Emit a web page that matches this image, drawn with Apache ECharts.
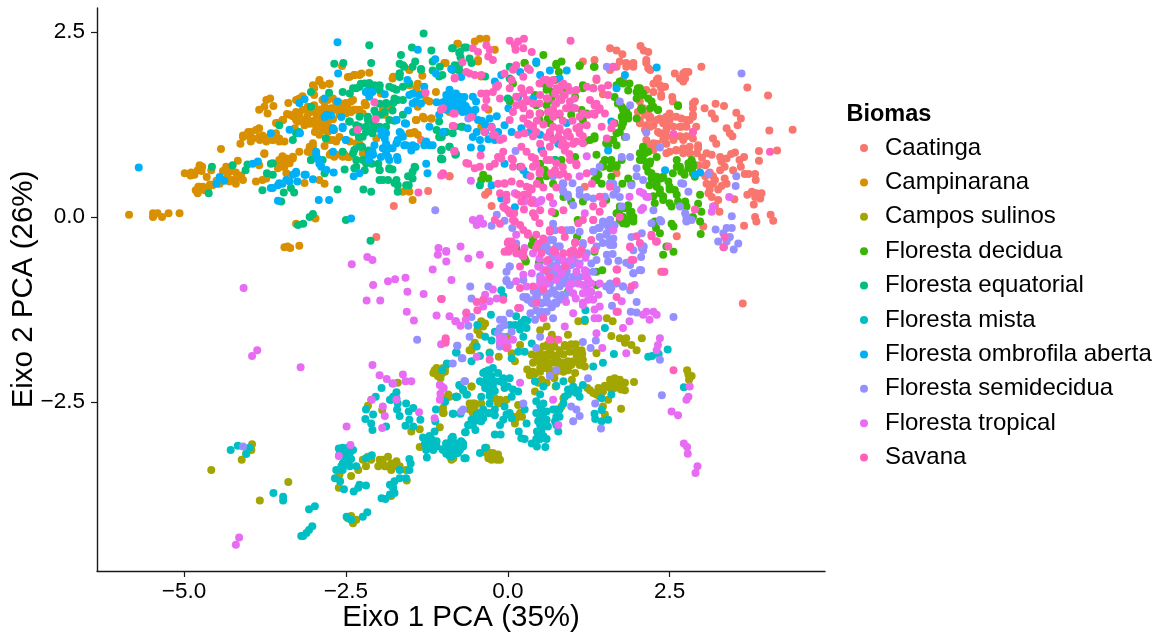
<!DOCTYPE html>
<html><head><meta charset="utf-8">
<style>html,body{margin:0;padding:0;background:#fff}#c{width:1168px;height:632px}</style>
<script src="https://cdn.jsdelivr.net/npm/echarts@6/dist/echarts.min.js"></script>
</head><body><div id="c"></div>
<script>
const seriesNames=["Caatinga","Campinarana","Campos sulinos","Floresta decidua","Floresta equatorial","Floresta mista","Floresta ombrofila aberta","Floresta semidecidua","Floresta tropical","Savana"];
const seriesColors=["#F8766D","#D89000","#A3A500","#39B600","#00BF7D","#00BFC4","#00B0F6","#9590FF","#E76BF3","#FF62BC"];
const xTicks=[-5,-2.5,0,2.5];
const yTicks=[-2.5,0,2.5];
const tickText={"-5":"−5.0","-2.5":"−2.5","0":"0.0","2.5":"2.5"};

const caatinga=[[1.58,2.28],[1.68,2.25],[1.77,2.2],[2.05,2.31],[2.1,2.25],[2.17,2.23],[2.14,2.12],[2.17,2.01],[1.83,2.08],[1.94,2.03],[1.68,2.03],[2.58,1.94],[2.74,1.96],[2.79,1.96],[2.74,1.87],[2.71,1.83],[2.99,2.03],[2.32,1.87],[2.25,1.8],[2.35,1.78],[2.43,1.76],[2.25,1.69],[2.37,1.65],[2.54,1.62],[3.7,1.75],[4.02,1.64],[3.21,1.53],[3.34,1.5],[3.04,1.47],[2.89,1.56],[2.86,1.47],[2.86,1.38],[3.15,1.4],[3.2,1.33],[3.53,1.41],[3.6,1.33],[3.55,1.24],[3.38,1.2],[3.43,1.13],[3.47,1.09],[4.04,1.17],[4.4,1.18],[2.04,1.56],[2.09,1.47],[2.01,1.42],[2.17,1.38],[2.19,1.33],[2.04,1.31],[2.35,1.33],[2.5,1.4],[2.5,1.31],[2.45,1.24],[2.56,1.22],[2.68,1.33],[2.81,1.31],[2.68,1.22],[2.86,1.15],[2.76,1.09],[2.66,1.09],[2.56,1.04],[2.45,1.09],[2.35,1.13],[2.25,1.24],[2.14,1.24],[2.45,.99],[2.3,.99],[2.19,.97],[2.5,.88],[2.6,.9],[2.71,.93],[2.81,.95],[2.94,.97],[2.92,.86],[3.17,1.06],[3.22,.99],[3.07,.86],[3.15,.84],[3.28,.81],[3.3,.75],[3.38,.79],[3.51,.87],[3.58,.77],[3.65,.81],[3.48,.63],[3.88,.89],[3.88,.76],[4.16,.9],[3.66,.58],[3.82,.58],[3.83,.5],[3.07,.72],[3.28,.63],[3.17,.55],[3.38,.45],[3.07,.45],[3.17,.45],[3.25,.37],[3.12,.37],[3.15,.27],[3.25,.23],[3.27,.07],[3.5,.24],[3.77,.34],[3.84,.32],[3.92,.32],[3.82,.27],[3.8,.17],[4.06,.03],[3.82,0],[3.84,-.06],[4.1,-.05],[3.65,-.12],[3.02,-.13],[2.61,-.26],[1.47,1.66],[1.37,1.85],[1.34,2.12],[1.16,2.1],[2.12,1.18],[1.68,.59],[1.19,.41],[-.3,.34],[-.35,.3],[-.25,.15],[-.9,.55],[3.63,-1.17],[2.37,-.74],[-1.76,.15],[-2.03,-.27],[-1.23,.35],[-.9,.55],[-1.34,1.04],
[1.78,1.85],[1.83,2.03],[1.73,2.1],[1.94,2.08],[2.14,2.08],[2.2,1.985],[2.3,1.85],[2.37,1.74],[2.37,1.625],[2.14,1.715],[2.55,1.56],[2.3,1.31],[2.45,1.355],[2.6,1.355],[2.76,1.31],[2.86,1.355],[2.4,1.265],[2.66,1.22],[2.76,1.22],[2.91,1.22],[2.32,1.15],[2.45,1.175],[2.55,1.085],[2.71,1.04],[2.86,1.06],[2.4,1.04],[2.25,.995],[2.14,1.04],[2.2,1.22],[2.04,1.265],[2.12,1.38],[2.2,1.355],[2.6,.905],[2.81,.86],[2.94,.93],[2.45,.86],[2.25,.905],[2.71,.86],[1.58,1.985],[2.86,1.535],[2.71,1.94],[2.66,1.87],[3,.8],[3.05,.7],[3.12,.6],[3.2,.5],[3.3,.42],[3.05,.55],[3.1,.32],[3.2,.15],[3.35,.52],[2.95,.7],[3.35,.68],[3.45,.85],[3.6,.68],[3.72,.58],[3.7,.3],[3.9,.25]];

const campinarana=[[-5.85,.03],[-5.48,.05],[-5.48,0],[-5.41,.05],[-5.34,0],[-5.24,.05],[-5.07,.05],[-3.22,-.39],[-3.45,-.41],[-3.36,-.42],[-3.4,-.4],[-3.27,-.09],[-2.97,-.02],[-4.99,.59],[-4.89,.6],[-4.84,.57],[-4.76,.7],[-4.72,.68],[-4.79,.63],[-4.58,.63],[-4.82,.36],[-4.79,.32],[-4.71,.41],[-4.63,.39],[-4.76,.41],[-4.56,.43],[-4.45,.45],[-4.35,.68],[-4.65,.54],[-4.33,.54],[-4.25,.5],[-4.17,.54],[-4.09,.5],[-4.2,.45],[-4.17,.76],[-4.3,.61],[-4.43,.92],[-4.13,.99],[-4.09,1.08],[-3.97,1.15],[-3.84,1.2],[-4.02,1.1],[-3.94,1.06],[-3.84,1.08],[-3.73,1.02],[-3.63,1.04],[-3.53,1.02],[-3.97,1.02],[-3.79,1.1],[-3.68,1.08],[-3.58,1.13],[-3.84,1.45],[-3.76,1.49],[-3.71,1.4],[-3.73,1.58],[-3.67,1.6],[-3.62,1.5],[-3.39,1.54],[-3.27,1.58],[-3.17,1.63],[-3.22,1.6],[-3.58,1.27],[-3.48,1.31],[-3.41,1.39],[-3.32,1.36],[-3.22,1.4],[-3.12,1.45],[-3.01,1.47],[-3.27,1.31],[-3.17,1.31],[-3.06,1.26],[-2.96,1.22],[-2.86,1.17],[-2.76,1.22],[-2.86,1.31],[-2.76,1.45],[-2.65,1.54],[-2.57,1.47],[-2.5,1.49],[-2.39,1.58],[-2.86,1.58],[-3.01,1.78],[-2.91,1.85],[-2.86,1.78],[-2.76,1.8],[-2.99,1.65],[-2.47,1.89],[-2.37,1.92],[-2.26,1.94],[-2.14,1.95],[-2.56,2.04],[-3.53,.77],[-3.48,.82],[-3.4,.75],[-3.32,.79],[-3.45,.68],[-3.55,.66],[-3.76,.85],[-3.22,.88],[-3.01,.95],[-3.06,.88],[-2.83,.96],[-2.75,.84],[-2.65,.84],[-2.52,.84],[-2.45,.81],[-2.7,1.04],[-2.29,.99],[-2.24,.86],[-3.89,.48],[-3.79,.5],[-3.73,.52],[-3.84,.7],[-3.14,.46],[-2.91,.5],[-2.83,.45],[-3.42,.59],[-2.34,1.45],[-2.24,1.4],[-2.19,1.51],[-1.96,1.67],[-1.84,1.48],[-2.03,1.06],[-1.78,1.87],[-1.52,1.99],[-1.32,1.91],[-1.39,1.8],[-1.52,1.78],[-1.42,1.67],[-1.39,1.49],[-1.26,1.58],[-1.21,1.56],[-1.11,1.69],[-1.18,1.33],[-1.29,1.33],[-1.42,1.31],[-1.49,1.13],[-1.39,1.11],[-1.62,.34],[-1.52,.34],[-1.47,.23],[-.98,2.08],[-.78,2.34],[-.51,2.37],[-.43,2.41],[-.33,2.41],[-.2,2.26],[-.77,2.34],[-.46,2.1],[-.46,2.12],[-.96,2.08],[-.41,1.9],[-.3,1.45],[-.9,1.42],[-.41,1.22],
[-2.86,1.58],[-2.78,1.58],[-2.7,1.6],[-2.6,1.54],[-2.5,1.54],[-2.42,1.56],[-2.83,1.49],[-2.73,1.47],[-2.65,1.45],[-2.55,1.45],[-2.47,1.47],[-2.91,1.45],[-2.99,1.51],[-3.09,1.49],[-3.17,1.45],[-3.27,1.42],[-3.37,1.38],[-3.47,1.31],[-3.55,1.27],[-3.04,1.42],[-2.91,1.36],[-2.83,1.33],[-2.93,1.26],[-2.86,1.22],[-2.98,1.15],[-2.91,1.11],[-2.78,1.15],[-2.68,1.175],[-2.6,1.08],[-2.75,1.04],[-2.65,1.02],[-2.44,1.02],[-2.34,.995],[-2.29,.97],[-3.06,.95],[-3.01,.995],[-3.09,.88],[-3.01,.86],[-2.73,.86],[-2.68,.815],[-2.55,.815],[-2.47,.81],[-3.5,.77],[-3.42,.79],[-3.55,.7],[-3.47,.68],[-3.37,.725],[-3.32,.815],[-3.76,.86],[-4.09,1.1],[-3.94,1.06],[-3.83,1.04],[-3.73,1.06],[-3.63,1.04],[-3.53,1.06],[-3.45,1.02],[-3.89,1.175],[-4.01,1.15],[-3.29,1.2],[-3.24,1.29],[-3.14,1.24],[-2.37,1.45],[-2.29,1.45],[-2.21,1.54],[-1.93,1.45],[-1.9,1.38],[-2.21,.86],[-1.41,1.31],[-1.31,1.355],[-1.18,1.33],[-1.52,1.13],[-1.44,1.15],[-2.29,1.92],[-2.37,1.92],[-2.44,1.895],[-1.52,1.985],[-1.77,1.895],[-1.41,1.74],[-1.31,1.67],[-2.91,1.83],[-2.99,1.74],[-2.75,1.8],[-4.75,.37],[-4.68,.36],[-4.78,.41],[-4.6,.44],[-4.5,.49],[-4.4,.5],[-4.3,.48],[-4.12,.56],[-4.2,.6],[-4.27,.66],[-4.9,.56],[-4.73,.62],[-4.4,.62],[-2.95,1.38],[-2.8,1.28],[-2.7,1.32],[-2.6,1.38],[-2.5,1.4],[-2.42,1.42],[-3.1,1.35],[-3,1.3],[-2.88,1.42]];

const camposSulinos=[[-4.58,-3.42],[-3.39,-3.58],[-3.83,-3.83],[-3.95,-3.07],[-3.96,-3.15],[-4.11,-3.28],[-4.04,-3.2],[-2.42,-4.04],[-2.34,-4.09],[-2.39,-4.14],[-2.47,-4.07],[-2.6,-3.48],[-2.61,-3.66],[-2.42,-3.5],[-2.31,-3.42],[-2.19,-3.37],[-2.24,-3.28],[-2.11,-3.28],[-2.16,-3.24],[-2,-3.37],[-1.93,-3.28],[-1.85,-3.24],[-1.88,-3.37],[-1.72,-3.3],[-1.67,-3.37],[-1.8,-3.42],[-1.57,-3.42],[-1.56,-3.56],[-1.8,-3.77],[-1.77,-3.66],[-2.16,-2.55],[-2.11,-2.47],[-1.94,-2.61],[-1.7,-2.24],[-1.49,-2.9],[-1.36,-2.87],[-1.36,-3.11],[-1.05,-2.84],[-1.13,-2.11],[-1.05,-2.09],[-.97,-2.04],[-1.04,-2.18],[-1.13,-2.07],[-.92,-2.4],[-.8,-2.43],[-.69,-2.34],[-1,-2.65],[-.59,-1.8],[-.56,-2.29],[-.59,-2.52],[-.87,-3.24],[-.41,-1.44],[-.35,-1.44],[-.47,-1.53],[-.51,-1.7],[-.56,-1.8],[-.28,-1.83],[-.14,-1.89],[.11,-1.95],[.06,-1.84],[0,-1.62],[.19,-1.73],[.37,-1.86],[.5,-1.53],[.6,-1.48],[.68,-1.59],[.75,-1.66],[.93,-1.59],[.88,-1.73],[1.09,-1.41],[1.19,-1.41],[1.53,-1.37],[1.62,-1.41],[1.6,-1.61],[1.73,-1.64],[1.81,-1.7],[1.91,-1.73],[2.07,-1.64],[1.99,-1.8],[1.83,-1.64],[.5,-1.84],[.65,-1.8],[.6,-1.93],[.75,-1.88],[.86,-1.86],[.96,-1.82],[1.06,-1.86],[1.14,-1.8],[1.16,-1.93],[1.19,-2.02],[1.01,-1.95],[.86,-1.97],[.7,-1.97],[.52,-1.97],[.39,-1.97],[.3,-2.06],[.34,-2.14],[.5,-2.09],[.65,-2.13],[.75,-2.09],[.93,-2.07],[1.04,-2.11],[.99,-2.2],[.47,-2.24],[.42,-2.36],[.6,-2.24],[.74,-2.29],[1.37,-1.84],[1.23,-2.31],[1.32,-2.38],[1.42,-2.43],[1.4,-2.31],[1.58,-2.2],[1.65,-2.18],[1.68,-2.27],[1.81,-2.24],[1.95,-2.23],[1.81,-2.34],[1.55,-2.47],[1.65,-2.31],[1.75,-2.59],[1.47,-2.56],[1.5,-2.67],[2.77,-2.07],[2.84,-2.15],[2.8,-2.2],[2.79,-2.13],[-1,-2.04],[-.97,-2.09],[-.51,-2.52],[-.51,-2.56],[-.56,-2.29],[-.9,-2.43],[-.8,-2.43],[-1,-2.58],[-.99,-2.65],[-.2,-2.45],[-.12,-2.49],[-.02,-2.47],[.13,-2.72],[.19,-2.65],[.11,-2.79],[.22,-2.7],[.16,-2.54],[-.54,-2.65],[-.41,-2.52],[-.33,-3.12],[-.28,-3.19],[-.2,-3.26],[-.15,-3.21],[-.28,-3.26],[-.84,-3.26],[.86,-2.45],[.83,-2.56],
[.6,-1.86],[.68,-1.86],[.78,-1.95],[.93,-1.95],[1.09,-1.93],[1.06,-1.8],[1.11,-2],[.5,-2.04],[.57,-2.04],[.39,-2.09],[.65,-2.07],[.86,-2.09],[.44,-1.88],[.52,-1.88],[.7,-1.88],[.52,-2.2],[1.6,-2.27],[1.73,-2.2],[1.76,-2.29],[1.27,-2.34],[1.37,-2.4],[1.47,-2.36],[1.58,-2.31],[-.54,-2.52],[-.46,-2.65],[-.59,-2.6],[.11,-2.7],[-.33,-3.19],[-.23,-3.19],[-.3,-3.26],[-.25,-3.28],[-.12,-3.28],[-.17,-3.28],[-.87,-3.28],[-.12,-2.47],[-.15,-2.52],[-.95,-2.45],[-.41,-1.41],[-.38,-1.48],[-.43,-1.59],[-.54,-1.75],[-1.98,-3.28],[-1.9,-3.37],[-1.8,-3.33],[-1.72,-3.37],[-1.15,-2.11],[-1.08,-2.15],[-1.1,-2.04],[-1.03,-2.13],[.55,-1.75],[.62,-1.72],[.72,-1.75],[.8,-1.8],[.9,-1.75],[.98,-1.72],[1.05,-1.72],[.45,-1.95],[.55,-2],[.62,-2],[.8,-2.02],[.88,-2],[.98,-2],[1.1,-1.98],[1.15,-1.85],[.72,-2.18],[.42,-2.12],[1.68,-2.2],[1.75,-2.33],[1.5,-2.28]];

const florestaDecidua=[[.55,2.19],[.26,2.08],[.75,2.07],[.83,2.1],[1.11,2.04],[1.33,2.03],[.79,1.96],[2.04,1.74],[1.99,1.69],[2.09,1.65],[2.17,1.6],[2.25,1.49],[2.32,1.45],[2.63,1.5],[1.99,1.33],[2.07,1.45],[1.76,1.49],[1.83,1.45],[1.86,1.38],[1.78,1.31],[1.76,1.22],[1.68,1.13],[1.63,1.04],[1.55,.97],[1.68,.97],[1.81,1.08],[1.73,1.83],[1.65,1.62],[1.86,1.71],[1.68,1.78],[.73,1.85],[.6,1.72],[.7,1.65],[.86,1.69],[.44,1.51],[.5,1.4],[.62,1.33],[.8,1.38],[.98,1.38],[1.16,1.31],[.42,1.65],[1.04,1.62],[1.34,1.09],[1.19,1.02],[1.37,.84],[1.04,.81],[.73,.77],[1.16,1.74],[.03,1.58],[.65,1.11],[2.09,.93],[2.04,.86],[2.17,.88],[2.09,.77],[2.19,.72],[2.3,.81],[2.17,.61],[2.22,.52],[2.3,.45],[2.37,.52],[2.48,.48],[2.5,.37],[2.35,.37],[2.25,.28],[2.4,.28],[2.53,.14],[2.61,.3],[2.61,.68],[2.68,.61],[2.79,.66],[2.86,.72],[2.61,.77],[2.86,.59],[2.74,.21],[2.97,.3],[2.94,.18],[2.99,.07],[2.86,0],[2.97,-.06],[2.76,.14],[2.98,-.23],[2.84,.77],[2.27,-.06],[2.53,-.09],[2.35,-.22],[2.56,-.13],[2.29,-.15],[1.37,.5],[1.45,.45],[1.47,.72],[1.58,.66],[1.68,.7],[1.76,.77],[1.37,.59],[1.86,.52],[1.77,.45],[1.91,.45],[1.73,.14],[1.83,.12],[1.91,.07],[1.7,.05],[1.78,0],[1.89,-.04],[1.83,-.09],[1.94,0],[1.73,-.04],[1.86,.16],[.5,.72],[.6,.55],[.7,.45],[.5,.45],[.86,.27],[.98,.21],[1.16,.21],[1.52,.23],[.73,.05],[1.08,-.04],[1.07,-.27],[-.38,.57],[-.41,.5],[-.3,.52],[.39,-.3],[.26,-.56],[.13,-.45],[1.34,-.47],[2.45,-.4],[2.4,-.51],[2.56,-.47],[.28,-.6],[.48,-.62],[1.37,-.74],[1.46,-.72],[1.37,-.92],[.93,-1.01],[.13,-.42],[.37,-.38],
[1.7,1.535],[1.78,1.445],[1.83,1.4],[1.76,1.355],[1.86,1.33],[1.78,1.265],[1.73,1.15],[1.65,1.265],[1.6,1.04],[1.52,.995],[1.5,.77],[1.6,.725],[1.68,.68],[1.47,.68],[1.34,.5],[1.4,.57],[2.09,.95],[2.12,.86],[2.04,.77],[2.2,.75],[2.14,.68],[2.22,.59],[2.3,.545],[2.4,.545],[2.55,.59],[2.66,.68],[2.79,.725],[2.86,.68],[2.73,.57],[2.89,.545],[2.01,1.74],[2.09,1.67],[2.22,1.56],[2.32,1.445],[2.63,1.51],[1.88,1.805],[1.78,1.805],[1.99,1.6],[2.2,1.47],[2.06,1.47],[.62,1.74],[.7,1.69],[.55,1.805],[.6,1.51],[.67,1.58],[.49,1.31],[.65,1.265],[1.16,1.78],[1.32,1.74],[1.22,1.4],[1.14,1.445],[1.34,1.06],[1.27,1.04],[.26,2.08],[.75,2.05],[1.11,2.05],[1.34,2.03],[.03,1.56],[.08,1.805],[.65,1.83],[.57,.635],[.49,.5],[.83,.77],[1.6,.545],[1.6,.77],[1.73,.095],[1.81,.12],[1.89,.05],[1.73,0],[1.86,-.04],[1.94,-.06],[1.78,-.085],[1.68,.05],[2.27,.185],[2.4,.23],[2.5,.185],[2.35,.32],[2.5,.41],[2.58,.365],[2.63,.21],[2.3,.41],[2.19,.43]];

const florestaEquatorial=[[-1.3,2.48],[-2.14,2.32],[-1.48,2.29],[-1.65,2.19],[-1.18,2.25],[-.86,2.28],[-.75,2.22],[-.67,2.29],[-2.11,2.08],[-1.43,2.1],[-2.68,2.07],[-2.54,2.08],[-1.67,2.07],[-1.6,2.03],[-1.34,2],[-1.16,1.98],[-1.67,1.94],[-1.67,1.89],[-1.06,1.9],[-.82,2.05],[-.75,1.98],[-2.27,1.8],[-2.14,1.81],[-1.98,1.77],[-1.83,1.76],[-1.72,1.72],[-1.7,1.58],[-2.06,1.78],[-2.39,1.74],[-2.76,1.68],[-3.04,1.69],[-1.98,1.53],[-1.88,1.53],[-2.06,1.44],[-1.96,1.38],[-1.83,1.31],[-2.16,1.31],[-2.29,1.22],[-2.45,1.29],[-2.19,1.15],[-2.09,1.13],[-1.88,1.22],[-1.72,1.31],[-1.62,1.58],[-1.78,1.44],[-1.62,1.38],[-2.55,.88],[-2.39,.86],[-2.34,.77],[-2.37,.66],[-2.21,.63],[-2.52,.64],[-2.14,.81],[-1.98,.63],[-1.83,.65],[-1.78,.64],[-1.98,.5],[-1.85,.5],[-1.75,.46],[-1.7,.43],[-1.53,.43],[-1.54,.55],[-1.47,.61],[-1.43,.67],[-1.7,.34],[-2.23,.37],[-2.11,.34],[-2.63,.37],[-3.3,.33],[-3.46,.33],[-3.35,.39],[-3.79,.36],[-3.5,.21],[-3.72,.59],[-3.63,.57],[-3.66,.72],[-4.02,.71],[-4.05,.63],[-4.25,.7],[-4.57,.68],[-4.62,.32],[-3.27,1.13],[-3.22,1.15],[-2.81,1.06],[-3.04,.77],[-2.83,.59],[-2.86,.77],[-3.06,0],[-3.01,.04],[-3.16,-.09],[-3.24,-.11],[-2.5,-.04],[-2.12,-.32],[-1.03,.9],[-.9,.95],[-.81,.84],[-1.03,.78],[-1.06,1.08],[-.98,1.15],[-.85,1.13],[-1.06,1.29],[-.7,1.22],[-.85,2.28],[-.64,2.29],[-.74,2.23],[-.73,2.16],[-.59,2.14],[-.56,2.08],[-1.01,1.92],[-.87,2],[-.97,1.15],[-.82,1.22],[-.72,1.22],[-1.02,1.08],[-.9,.95],[-.8,.85],[-1.01,.78],[-1.02,.91],[.03,2.03],[.03,1.87],[0,1.6],[.73,.77],[-.43,.43],[.19,.68],[-.35,1.9],[.44,2.08],
[-2.19,1.22],[-2.11,1.175],[-2.24,1.085],[-2.08,1.265],[-1.98,1.22],[-2.34,1.24],[-2.44,1.29],[-2.39,1.15],[-2.16,1.355],[-2.29,1.355],[-2.03,1.38],[-1.98,1.715],[-2.14,1.76],[-2.29,1.76],[-2.08,1.715],[-1.98,1.78],[-1.77,1.74],[-1.62,1.76],[-1.52,1.805],[-2.34,.68],[-2.24,.77],[-2.19,.725],[-2.29,.95],[-2.37,.905],[-1.05,1.085],[-.95,1.15],[-1.1,1.175],[-1.98,.635],[-1.83,.66],[-1.93,.5],[-1.72,.5],[-1.57,.43],[-1.47,.52],[-1.44,.68],[-1.03,.79],[-1.67,1.94],[-1.62,2.05],[-1.47,2.03],[-1.34,1.985],[-1.16,2.1],[-1.05,2.03],[-.85,1.985],[-.75,2.05],[-3.53,1.24],[-3.32,1.04],[-3.63,.725],[-3.04,.77],[-3.04,1.49],[-2.44,1.67],[-2.34,1.74],[-2.21,1.805],[-1.88,1.54],[-1.77,1.54],[-1.75,1.6],[-2.55,1.69],[-2.3,1.08],[-2.25,.95],[-2.15,.9],[-2.05,1.2],[-1.9,1.42],[-2,.72],[-2.1,.72],[-1.75,1.3]];

const florestaMista=[[-4.28,-3.15],[-4.17,-3.09],[-3.99,-3.12],[-4.04,-3.2],[-3.62,-3.73],[-3.47,-3.78],[-3.47,-3.83],[-3.07,-3.95],[-2.98,-3.91],[-3.02,-4.18],[-3.07,-4.23],[-3.11,-4.27],[-3.16,-4.31],[-3.19,-4.31],[-2.17,-3.99],[-2.24,-4.05],[-2.49,-4.05],[-2.42,-4.09],[-2.61,-3.13],[-2.55,-3.12],[-2.47,-3.12],[-2.39,-3.15],[-2.6,-3.21],[-2.49,-3.24],[-2.55,-3.33],[-2.44,-3.37],[-2.55,-3.42],[-2.65,-3.42],[-2.67,-3.53],[-2.59,-3.57],[-2.53,-3.68],[-2.34,-3.37],[-2.19,-3.26],[-2.1,-3.22],[-2.29,-3.62],[-2.19,-3.63],[-2.38,-3.71],[-2.31,-3.66],[-1.52,-3.27],[-1.5,-3.33],[-1.67,-3.42],[-1.52,-3.42],[-1.57,-3.53],[-1.67,-3.53],[-1.75,-3.57],[-1.82,-3.62],[-1.77,-3.66],[-1.75,-3.73],[-1.82,-3.75],[-1.95,-3.8],[-1.89,-3.81],[-1.95,-2.31],[-2.04,-2.43],[-1.72,-2.37],[-1.8,-2.47],[-1.7,-2.52],[-1.57,-2.52],[-1.46,-2.58],[-1.53,-2.63],[-1.71,-2.6],[-1.67,-2.69],[-1.52,-2.74],[-1.58,-2.82],[-1.46,-2.83],[-1.35,-2.74],[-1.78,-2.25],[-2.19,-2.6],[-2.08,-2.67],[-2.2,-2.73],[-2.11,-2.79],[-2.09,-2.88],[-1.88,-2.83],[-1.31,-2.98],[-1.21,-2.96],[-1.13,-2.9],[-1.21,-3.06],[-1.1,-3.03],[-1.26,-3.15],[-1.15,-3.15],[-1.25,-3.25],[-1.11,-2.6],[-.97,-2.49],[-1.01,-2.07],[-.94,-1.99],[-.8,-1.83],[-.75,-2.27],[-.64,-2.4],[-.8,-2.43],[-.85,-2.66],[-.73,-2.66],[-.61,-2.81],[-.66,-2.91],[-1.12,-2.76],[-.95,-3.06],[-.87,-2.99],[-1,-3.15],[-.85,-3.1],[-.69,-3.06],[-.74,-3.15],[-.87,-3.24],[-.67,-3.26],[-.1,-.99],[-.07,-1.07],[-.26,-1.32],[-.47,-1.46],[-.2,-1.55],[-.35,-1.62],[-.48,-1.75],[-.25,-1.67],[-.43,-1.88],[-.12,-1.71],[-.28,-1.84],[.03,-1.46],[.13,-1.34],[.21,-1.43],[.3,-1.4],[.29,-1.5],[.24,-1.62],[.37,-1.71],[.26,-1.82],[.16,-1.82],[.06,-1.91],[-.79,-1.83],[-.56,-1.95],[-.94,-1.98],[1.32,-2.02],[1.47,-1.97],[1.64,-1.85],[2.17,-1.89],[2.23,-1.88],[2.33,-1.85],[2.47,-1.79],[2.72,-2.3],[1.2,-1.26],[1.19,-1.39],[1.5,-1.5],[-.35,-2.09],[-.23,-2.04],[-.15,-2.11],[-.33,-2.2],[-.28,-2.29],[-.43,-2.22],[-.2,-2.22],[-.28,-2.36],[-.74,-2.28],[-.69,-2.33],[-.78,-2.43],[-.63,-2.4],[-.41,-2.43],[-.97,-2.5],[-.84,-2.66],[-.28,-2.52],[-.38,-2.6],[-.48,-2.67],[-.56,-2.74],[-.61,-2.81],[-.41,-2.76],[-.25,-2.65],[-.65,-2.91],[-.07,-2.18],[.03,-2.18],[-.05,-2.31],[.06,-2.43],[.16,-2.36],[-.05,-2.56],[.03,-2.65],[-.07,-2.74],[-.12,-2.81],[-.2,-2.94],[-.11,-2.94],[.26,-2.6],[.29,-2.79],[.17,-2.9],[.21,-2.99],[.26,-3],[.42,-2.22],[.55,-2.29],[.44,-2.49],[.55,-2.52],[.44,-2.65],[.55,-2.65],[.6,-2.74],[.47,-2.76],[.52,-2.88],[.62,-2.83],[.47,-2.96],[.6,-3],[.42,-3.06],[.37,-3.06],[.45,-3.1],[.58,-3.11],[.75,-2.7],[.8,-2.6],[.7,-2.6],[.78,-2.9],[.75,-2.81],[.86,-2.52],[.93,-2.4],[1.01,-2.36],[1.11,-2.43],[1.09,-2.34],[1.16,-2.27],[.75,-2.28],[.86,-2.22],[1.34,-2.66],[1.35,-2.73],[1.45,-2.76],[1.55,-2.74],[1.6,-2.4],[1.45,-2.45],[1.45,-2.61],[-.85,-2.97],[-.95,-3.06],[-1.01,-3.14],[-.82,-3.12],[-.72,-3.03],[-.69,-3.1],[-.9,-3.23],[-.65,-3.26],[-.43,-3.19],[-.35,-3.12],
[-.38,-2.11],[-.3,-2.07],[-.25,-2.15],[-.38,-2.24],[-.3,-2.22],[-.23,-2.29],[-.35,-2.31],[-.48,-2.74],[-.54,-2.81],[-.38,-2.72],[-.3,-2.65],[-.2,-2.6],[-.07,-2.24],[0,-2.29],[.08,-2.33],[-.02,-2.67],[.06,-2.72],[.52,-2.6],[.6,-2.63],[.5,-2.72],[.57,-2.81],[.5,-2.81],[.44,-3],[.55,-2.96],[.75,-2.6],[.8,-2.7],[.73,-2.76],[.93,-2.33],[1.01,-2.29],[1.06,-2.38],[.88,-2.43],[.11,-1.46],[.19,-1.46],[.26,-1.39],[.19,-1.52],[-.9,-3.12],[-.84,-3.06],[-.79,-3.1],[-.95,-3.12],[-.87,-3.14],[-.77,-3.19],[-1.26,-3],[-1.18,-3],[-1.15,-3.08],[-1.23,-3.08],[-1.28,-3.06],[-1.1,-3.1],[-2.55,-3.15],[-2.49,-3.17],[-2.44,-3.19],[-2.52,-3.26],[-2.57,-3.37],[-2.47,-3.33],[-1.82,-2.47],[-1.77,-2.43],[-1.72,-2.45],[-.77,-3.06],[-.85,-3],[.5,-2.4],[.5,-2.55],[.45,-2.9],[.5,-3],[.52,-2.95],[-.3,-2.15],[-.33,-2.3],[-.28,-2.42],[-.25,-2.3],[-.2,-2.35],[-.12,-2.22],[-.45,-2.75],[-.5,-2.88],[-.42,-2.65],[-.2,-2.68],[-.9,-3.18],[-.82,-3.2],[-.95,-3.2],[-1.2,-3.02],[-1.2,-3.12],[-2.5,-3.3],[-2.42,-3.27]];

const florestaOmbrofila=[[-5.7,.67],[-2.63,2.36],[-1.39,2.26],[-2.62,1.94],[-1.12,2.13],[-.87,2],[-1.11,1.94],[-3.14,1.59],[-3.22,1.54],[-3.66,1.13],[-3.21,1.13],[-2.83,1.6],[-2.63,1.56],[-2.83,1.35],[-2.73,1.37],[-2.57,1.35],[-2.7,1.2],[-2.55,1.22],[-2.5,1.04],[-3.37,1.18],[-2.19,1.69],[-2.09,1.69],[-1.9,1.66],[-1.55,1.85],[-1.52,1.65],[-1.42,1.56],[-1.54,1.44],[-1.29,1.76],[-1.96,1.17],[-1.88,1.13],[-1.88,.99],[-2.06,.97],[-2.14,.84],[-2.09,.88],[-1.88,.88],[-1.83,.77],[-1.96,.81],[-1.71,.81],[-1.78,.93],[-1.7,1.04],[-1.65,1.13],[-1.6,.97],[-1.49,.9],[-1.42,.95],[-1.29,.97],[-1.21,.97],[-1.57,1.26],[-1.21,1.22],[-1.06,1.38],[-1.26,.72],[-1.24,.59],[-2.96,.88],[-2.94,.79],[-2.91,.72],[-2.7,.88],[-2.69,.6],[-2.38,.55],[-2.29,.59],[-3.27,.61],[-3.32,.57],[-3.42,.5],[-3.48,.45],[-3.55,.43],[-3.66,.39],[-3.12,.57],[-3.01,.51],[-3.25,.48],[-3.55,.22],[-2.92,.23],[-2.76,.23],[-2.42,-.02],[-4.45,.54],[-4.38,.49],[-4.5,.45],[-3.94,.72],[-3.86,.75],[-.9,1.67],[-.95,1.58],[-.8,1.67],[-.85,1.58],[-.75,1.53],[-.82,1.49],[-.7,1.42],[-.72,1.89],[-.67,1.62],[-.77,1.45],[-1,1.49],[-.9,1.51],[-.9,1.72],[-.84,1.6],[-.74,1.56],[-.69,1.47],[-.61,1.45],[-.79,1.47],[-.92,1.58],[-.54,1.38],[-.46,1.31],[-.54,1.08],[-.57,.94],[-.43,1.04],[-.41,.93],[-.28,1.33],[-.17,1.36],[-.35,1.15],[-.2,1.04],[-.05,1.24],[.06,1.15],[.21,1.2],[.34,1.15],[.5,1.11],[-.2,1.83],[-.1,1.92],[.19,1.96],[.44,2.1],[.65,1.98],[.5,1.92],[.91,1.98],[.8,1.87],[.16,1.62],[.01,1.47],[.39,1.6],[1.01,1.47],[.91,1.27],[.78,.99],[1.55,.9],[1.6,1.29],[2.3,2.02],[1.81,1.92],[1.68,1.74],[-.05,.72],[.24,.63],[.29,.57],[-.25,.43],[-.1,.25],[.11,.13],[2.43,.63],[2.89,.57],[2.97,.6],[.52,.91],
[-2.19,1.69],[-2.11,1.69],[-2.14,1.625],[-1.93,1.15],[-1.95,1.11],[-1.9,1.06],[-1.67,1.15],[-1.62,1.085],[-1.72,.995],[-1.83,.93],[-1.93,.93],[-2.08,.84],[-2.14,.77],[-1.85,.815],[-1.7,.77],[-1.57,.97],[-1.47,.97],[-1.26,1.02],[-1.16,.97],[-1,1.15],[-1.47,1.67],[-1.36,1.65],[-1.47,1.535],[-1.34,1.535],[-1.72,1.31],[-1.59,1.265],[-.85,1.67],[-.74,1.625],[-.85,1.58],[-.74,1.535],[-.9,1.49],[-.54,1.625],[-.49,1.56],[-2.96,.84],[-2.91,.77],[-2.88,.68],[-2.8,.635],[-3.27,.59],[-3.14,.57],[-3.53,.455],[-3.37,.48],[-3.63,.39],[-2.8,1.38],[-2.7,1.175],[-2.55,1.2],[-2.5,1.04],[-1,1.55],[-.95,1.65],[-.88,1.62],[-.8,1.6],[-.78,1.52],[-.7,1.55],[-.95,1.45],[-.85,1.45],[-.65,1.5],[-.6,1.38],[-.5,1.45],[-.4,1.3],[-.35,1.25],[-.25,1.22],[-.15,1.15],[-.62,1.2],[-.48,1.15],[-.3,1.05],[-1.1,1.55]];

const florestaSemidecidua=[[3.61,1.94],[1.53,2.03],[1.63,2.03],[2.14,1.14],[2.35,.94],[1.83,1.08],[.12,.89],[1.73,1.56],[1.89,1.51],[-.61,1.33],[1.32,.61],[1.42,.68],[1.63,.45],[1.68,.37],[1.63,.3],[1.76,.81],[1.89,.81],[1.99,.66],[2.09,.5],[1.99,.55],[1.73,.27],[1.76,.14],[3.53,.55],[3.52,.42],[3.1,.58],[2.71,.45],[2.79,.34],[2.66,.14],[2.74,.05],[2.76,-.04],[2.37,-.06],[2.25,.09],[3.46,.01],[3.21,-.17],[3.38,-.15],[3.46,-.15],[3.33,-.22],[3.43,-.27],[3.25,-.33],[3.38,-.33],[3.56,-.36],[3.49,-.44],[3.34,-.41],[.86,.34],[.93,.3],[1.11,.3],[1.22,.27],[1.32,.25],[1.01,.16],[.86,.45],[.7,-.09],[.73,-.18],[.7,.55],[1.47,-.09],[1.58,-.04],[1.4,-.15],[1.32,-.18],[1.42,-.27],[1.58,-.31],[1.53,-.22],[.91,-.18],[.98,-.18],[1.63,-.15],[1.91,-.27],[2.07,-.22],[2.1,-.4],[1.16,-.35],[-.17,.03],[-.05,-.05],[-.25,-.12],[.07,-.15],[.13,-.36],[.21,-.51],[.62,-.45],[.75,-.4],[.7,-.31],[.7,-.54],[-1.12,.09],[.6,-.4],[.7,-.45],[.8,-.4],[1.16,-.38],[1.58,-.38],[1.47,-.35],[1.53,-.51],[1.71,-.59],[1.89,-.65],[1.94,-.76],[2.07,-.42],[2.06,-.54],[2.06,-.72],[.03,-.67],[-.02,-.74],[-.02,-.87],[.03,-.92],[.7,-.72],[.8,-.81],[.91,-.72],[1.01,-.81],[.6,-.9],[.7,-.99],[.8,-.94],[.88,-1.08],[.5,-.85],[.6,-1.08],[.44,-1.26],[.42,-1.39],[.52,-1.16],[.7,-1.37],[.29,-1.1],[.37,-1.16],[.24,-1.08],[.8,-1.12],[1.11,-.63],[1.22,-.74],[1.29,-.63],[1.11,-.81],[1.58,-.9],[1.58,-.99],[1.68,-.9],[1.78,-.94],[1.89,-.99],[1.99,-1.15],[1.61,-1.2],[1.9,-1.28],[1.99,-1.29],[2.56,-1.35],[-.58,-.94],[-.3,-.94],[-.56,-1.1],[-.56,-1.35],[-.61,-1.47],[.03,-1.3],[-.07,-1.39],[-.12,-1.5],[-.07,-1.62],[.06,-1.55],[-.59,-1.62],[-.78,-1.74],[-.7,-1.91],[1.16,-1.69],[1.28,-1.77],[1.36,-1.67],[-.66,-2.22],[1.24,-2.18],[1.35,-2.52],[1.44,-2.86],[2.38,-2.41],[2.35,-1.93],[1.06,-2.6],[1.01,-2.76],[1.11,-2.69],[.98,-2.56],[.75,-2.07],[.65,-2.15],[.44,-1.77],[.5,-1.62],[-.12,-1.75],[.24,-2.52],[-.72,-2.63],[-1.4,-1.66],[-.78,-1.74],[-.71,-1.91],[-.85,-1.98],[-4.09,-3.1],[-.67,-2.22],[-.69,-2.6],
[1.47,-.06],[1.58,-.04],[1.42,-.15],[1.55,-.13],[1.65,-.11],[1.32,-.175],[1.52,-.24],[1.63,-.29],[1.58,-.355],[.85,.365],[.93,.275],[.85,.455],[.98,-.175],[1.11,-.2],[.8,-.4],[.65,-.47],[.55,-.85],[.65,-.9],[.52,-1.01],[.7,-1.01],[.29,-1.08],[.39,-1.17],[.52,-1.17],[.75,-1.17],[.85,-1.05],[-.02,-.85],[.03,-.67],[.03,-.92],[.24,-.85],[1.94,-.45],[2.06,-.38],[2.09,-.45],[1.83,-.62],[1.94,-.76],[2.04,-.715],[1.37,-.58],[1.32,-.74],[1.22,-.94],[1.52,-.94],[1.6,-.96],[1.78,-.94],[.73,-.78],[.49,-.67],[.65,-.74],[.91,-.76],[1.06,-.8],[.65,-.31],[.7,-.51],[.52,-.4],[.8,-.58],[2.68,.455],[2.76,.005],[2.84,-.04],[2.76,-.06],[2.35,-.04],[2.22,-.085],[1.91,.43],[1.5,.275],[1.58,.455],[1,.455],[1.11,.365],[-.12,-1.39],[-.05,-1.46],[-.15,-1.57],[-.07,-1.7],[.31,-1.12],[.6,-1.28],[.42,-1.1],[.52,-1.28],[.62,-1.16],[.73,-1.16],[.44,-.98],[.5,-.8],[.65,-.63],[.75,-.54],[.91,-.6],[1.01,-.54],[1.22,-.49],[1.37,-.4],[1.63,-.38],[.55,-.95],[.65,-1.03],[.75,-1.05],[.85,-.9],[.9,-.85],[1,-.9],[.95,-1],[.4,-1],[.45,-1.08],[.58,-1.15],[.68,-1.22],[.5,-1.32],[.62,-.75],[.75,-.65],[.85,-.7],[.35,-1.3],[.98,-.65],[1.05,-.62],[1.62,-.5],[1.55,-.6]];

const florestaTropical=[[-4.08,-.96],[-3.87,-1.8],[-3.95,-1.88],[-3.2,-2.03],[-2.41,-.64],[-2.17,-.54],[-2.09,-.58],[-1.07,-.42],[-.95,-.47],[-1.08,-.51],[-.95,-.6],[-.73,-.4],[-.61,-.56],[-1.16,-.71],[-.87,-.85],[-2.08,-.92],[-1.85,-.87],[-1.74,-.84],[-1.58,-.82],[-1.55,-1.01],[-1.3,-1.04],[-2.18,-1.13],[-1.97,-1.13],[-1.56,-1.28],[-1.45,-1.4],[-1.1,-1.33],[-.9,-1.34],[-.8,-1.41],[-.73,-1.47],[-.65,-1.39],[-1.03,-1.72],[-2.09,-2],[-1.98,-2.14],[-1.87,-2.19],[-1.77,-2.25],[-1.62,-2.13],[-1.58,-2.22],[-1.49,-2.22],[-1.05,-2.27],[-.99,-2.31],[-1.04,-2.39],[-1.05,-2.47],[-1.37,-2.64],[-2.49,-2.83],[-1.93,-2.56],[-1.9,-2.69],[-1.94,-2.85],[-2.1,-2.47],[-1.72,-2.47],[-2.43,-3.08],[-2.61,-3.23],[-4.15,-4.33],[-4.2,-4.43],[-1.13,-2.72],[-.95,-.46],[-.43,-.51],[-.57,.49],[-.54,-.04],[-.43,-.02],[-.38,-.09],[-.48,-.11],[.11,.32],[.39,.23],[.5,.21],[.26,.21],[2.04,.34],[2.09,.12],[2.17,.27],[3.15,.07],[3.42,.27],[1.22,.82],[1.11,.55],[.13,-.24],[1.32,-.04],[1.19,.05],[3.17,.14],[1.63,-.18],[-.81,-1.41],[-.64,-1.29],[-.38,-1.21],[-.28,-1.14],[-.17,-1.1],[-.35,-1.05],[-.23,-.98],[.13,-.87],[.24,-.78],[.37,-.76],[.47,-.67],[.5,-.9],[.29,-.94],[1.24,-.85],[1.22,-1.01],[1.32,-1.12],[1.16,-1.16],[1.34,-1.25],[1.4,-1.37],[1.01,-1.3],[.88,-1.48],[1.37,-1.57],[1.46,-1.77],[1.76,-1.14],[1.68,-1.28],[1.88,-1.41],[1.78,-1.5],[2.14,-1.28],[2.25,-1.28],[2.3,-1.32],[2.19,-1.39],[2.09,-1.32],[1.96,-.92],[2.35,-1.64],[2.32,-1.73],[2.3,-1.8],[1.83,-1.84],[.19,-2.24],[2.79,-2.43],[2.81,-2.29],[2.76,-2.47],[2.53,-2.63],[2.63,-2.68],[2.72,-3.06],[2.77,-3.11],[2.78,-3.2],[2.93,-3.37],[2.9,-3.46],[-.12,-1.64],[-.02,-1.71],[.08,-1.66],[.19,-1.23],[-.48,-1.89],[-1.02,-2.29],[.7,-2.47],[.78,-2.81],
[1.09,-.9],[1.19,-.8],[1.29,-.9],[1.16,-1.03],[1.27,-1.03],[1.16,-1.19],[1.01,-1.03],[.52,.23],[.44,.185],[.7,.185],[.85,-.58],[.98,-.58],[1.11,-.49],[.91,-.67],[.55,-.715],[.75,-.85],[2.14,.275],[2.09,.32],[2.06,.095],[1.88,.275],[1.42,-.9],[1.4,-1.05],[.39,-.49],[.49,-.56],[.6,-.6],[.26,-.42],[.78,-.53],[.75,-.69],[1.22,-.8],[1.27,-.895],[1.16,-.92],[1.29,-1.01],[1.24,-1.12],[1.42,-1.21],[1.34,-1.37],[-.12,-1.7],[-.05,-1.66],[0,-1.75],[.52,-.83],[.6,-.9],[.83,-.76],[1.06,-.74],[1.19,-.72],[.95,-.95],[1.05,-1.1],[.9,-1.15],[1.1,-.65],[1.2,-.55],[.98,-.9]];

const savana=[[.03,2.38],[.16,2.37],[.25,2.41],[.11,2.32],[.12,2.26],[.24,2.28],[.37,2.23],[.97,2.38],[-.33,2.32],[-.28,2.26],[-.3,2.17],[-.23,2.12],[-.46,2.23],[-.54,2.28],[-.82,1.87],[-.59,1.94],[-.51,1.92],[-.41,1.92],[-.17,1.76],[-.05,1.94],[.13,2.05],[.08,1.99],[.31,2.01],[.21,1.74],[.03,1.74],[.13,1.51],[.24,1.47],[.08,1.42],[.29,1.58],[.34,1.4],[.31,1.26],[.39,1.22],[.26,1.13],[.16,1.11],[.39,1.09],[.5,.99],[.6,1.08],[.7,1.22],[.8,1.17],[.91,1.13],[.7,1.04],[.83,.97],[.88,.9],[.65,.95],[1.01,.99],[1.11,1.13],[1.11,1.22],[.55,1.85],[.65,1.8],[.75,1.74],[.86,1.8],[.96,1.71],[.6,1.6],[.73,1.53],[.8,1.6],[.93,1.47],[1.04,1.47],[1.16,1.4],[1.27,1.58],[1.37,1.53],[1.42,1.47],[1.32,1.4],[1.5,1.4],[1.22,1.76],[1.32,1.74],[1.45,1.22],[1.6,1.2],[1.63,1.26],[1.53,1.06],[1.16,1.09],[-.84,1.23],[-.56,1.35],[-.35,1.48],[-.25,1.21],[-.2,1.11],[.03,1.31],[.21,1.53],[-1,1.47],[-.84,1.4],[-.82,.89],[.21,.95],[.29,.88],[.37,.81],[.44,.72],[.5,.63],[.6,.77],[.73,.63],[.86,.59],[1.06,.72],[1.22,.59],[-.61,.72],[-.51,.66],[-.43,.68],[-.42,.83],[-.28,.68],[-.2,.72],[-.15,.81],[-1,.57],[-.07,.88],[.06,.79],[.08,.68],[-.15,.45],[-.05,.45],[.06,.48],[.19,.45],[.29,.41],[.37,.37],[-.12,.32],[-.02,.3],[-.07,.14],[0,.09],[.21,.21],[.37,.19],[.42,0],[.65,.27],[.5,.09],[.68,.07],[.86,.09],[1.32,.14],[1.47,.18],[1.42,.07],[1.16,-.04],[1.58,.41],[-.2,-.04],[-.12,-.09],[.08,-.04],[.19,-.11],[.31,-.22],[.44,-.24],[.65,-.2],[.55,-.31],[.47,-.36],[.88,-.27],[1.04,-.34],[1.01,-.45],[1.11,-.49],[1.29,-.31],[1.34,-.45],[.01,-.33],[.01,-.47],[.11,-.4],[.7,-.45],[.86,-.49],[.52,-.49],[1.99,-.26],[2.22,-.26],[2.3,-.33],[1.89,-.41],[2.48,-.4],[3.35,-.27],[3.33,-.41],[2.86,1.15],[2.56,1.12],[4.05,.88],[2.89,.1],[1.73,0],[0,-.35],[0,-.45],[-.28,-.65],[-1.02,-1.11],[-.96,-1.66],[-.48,-1.15],[-.47,-1.26],[-.38,-1.12],[.16,-1.23],[.19,-.67],[.6,-.72],[.65,-.81],[.88,-.67],[.55,-.98],[.96,-.49],[1.04,-.35],[1.09,-.51],[1.68,-.71],[2.42,-.74],[1.7,-1.28],[1.68,-.87],[1.91,-.58],[1.89,-.4],[2.04,-.35],[2.3,-.33],[2.56,-2.07],[-.28,-1.93],[-.07,-1.12],[-.02,-1.77],[.44,-1.16],[.55,-1.37],[.78,-1.66],[.65,-1.66],[-1.03,-1.11],[-.64,-1.3],[-.96,-1.64],[-.96,-1.7],[-2.06,1.55],[-2.04,1.32],[-2.32,1.18],[-1.03,1.45],[-.82,1.4],[-.85,1.23],[-.83,.89],[-1.03,.56],[-1,.59],[-1.38,.33],[-1.27,1.68],[-.7,2.09],[-.82,1.88],[-.64,1.96],[-.64,.73],
[-.33,1.67],[-.23,1.69],[-.12,1.6],[-.33,1.58],[.24,1.67],[.34,1.715],[.13,1.625],[.29,1.56],[.39,1.535],[.49,1.535],[.62,1.6],[.73,1.67],[.8,1.715],[.88,1.65],[.75,1.535],[.83,1.58],[.96,1.56],[1.03,1.6],[.9,1.47],[.49,1.4],[.34,1.38],[.24,1.33],[.34,1.24],[.44,1.15],[.65,1.15],[.8,1.2],[.93,1.15],[1.06,1.2],[1.22,1.24],[1.34,1.51],[1.4,1.445],[1.34,1.38],[1.24,1.38],[1.11,1.355],[.7,1.355],[.8,1.4],[.78,1.085],[.85,1.04],[.96,1.085],[.9,.97],[1.06,1.02],[1.16,.995],[.42,.79],[.55,.86],[.65,.77],[.75,.725],[.85,.68],[.96,.77],[1.06,.7],[.39,.68],[.49,.59],[.67,.59],[.8,.57],[.93,.545],[.08,.77],[.21,.68],[-.1,.79],[-.12,1.04],[-.07,1.06],[-.23,1.11],[-.36,1.15],[-.41,1.67],[-.18,1.76],[.34,1.985],[.24,1.895],[.06,1.85],[-.15,1.78],[.49,1.805],[.6,1.85],[.7,1.85],[.83,1.78],[.93,1.76],[1.06,1.715],[1.37,1.87],[1.45,1.74],[1.55,1.78],[1.55,1.65],[1.63,2.03],[-.05,.455],[-.02,.23],[-.05,.12],[.03,.05],[.34,.39],[.31,.3],[.37,.21],[.39,.05],[.49,-.085],[.65,-.175],[.83,-.175],[.11,-.06],[.24,-.175],[.31,-.24],[.03,-.42],[-.05,-.47],[.24,-.47],[.13,-.49],[.24,-.535],[.06,-.33],[.55,-.29],[.44,-.42],[.73,-.47],[.97,-.47],[1.14,-.445],[1.09,-.085],[1.32,-.04],[1.42,.275],[1.94,-.58],[1.91,-.94],[1.68,-1.08],[2.4,-.74],[1.69,-.71],[2.29,-.33],[2.22,-.24],[.19,-.96],[.39,-.94],[.62,-.58],[.45,1.3],[.55,1.25],[.62,1.42],[.5,1.65],[.7,1.45],[.85,1.3],[1,1.3],[.95,.85],[.45,.45],[.55,.4],[.15,.3],[.25,.1],[.1,.05],[.25,.3],[.35,.55],[.75,.4],[1.3,.45]];

const seriesData=[caatinga,campinarana,camposSulinos,florestaDecidua,florestaEquatorial,florestaMista,florestaOmbrofila,florestaSemidecidua,florestaTropical,savana];

const black="#000";
const axisColor="#1a1a1a";
const chart=echarts.init(document.getElementById("c"),null,{renderer:"canvas"});
chart.setOption({
  animation:false,
  backgroundColor:"#fff",
  textStyle:{fontFamily:"Liberation Sans, Arial, sans-serif"},
  title:{text:"Biomas",left:846.5,top:103,padding:0,textStyle:{fontSize:23.5,fontWeight:"bold",color:black,fontFamily:"Liberation Sans"}},
  grid:{left:97,right:343,top:8,bottom:61,containLabel:false,outerBoundsMode:"none"},
  legend:{
    orient:"vertical",left:860,top:136,padding:0,itemGap:10.4,itemWidth:8,itemHeight:8,icon:"circle",
    selectedMode:false,
    textStyle:{fontSize:24,color:black,fontFamily:"Liberation Sans",lineHeight:24,padding:[0,0,0,12]},
    data:seriesNames
  },
  xAxis:{type:"value",min:-6.345,max:4.9,scale:true,name:"Eixo 1 PCA (35%)",nameLocation:"middle",nameGap:31.5,nameMoveOverlap:false,
    nameTextStyle:{fontSize:29.5,color:black,fontFamily:"Liberation Sans"},
    splitLine:{show:false},
    axisLine:{show:true,onZero:false,lineStyle:{color:axisColor,width:1.4}},
    axisTick:{show:true,length:6,customValues:xTicks,lineStyle:{color:axisColor,width:1.2}},
    axisLabel:{fontSize:22.5,color:black,margin:9,customValues:xTicks,formatter:v=>tickText[String(v)]||String(v)}},
  yAxis:{type:"value",min:-4.784,max:2.824,scale:true,name:"Eixo 2 PCA (26%)",nameLocation:"middle",nameGap:58.5,nameMoveOverlap:false,
    nameTextStyle:{fontSize:29.5,color:black,fontFamily:"Liberation Sans"},
    splitLine:{show:false},
    axisLine:{show:true,onZero:false,lineStyle:{color:axisColor,width:1.4}},
    axisTick:{show:true,length:6,customValues:yTicks,lineStyle:{color:axisColor,width:1.2}},
    axisLabel:{fontSize:22.5,color:black,margin:12,customValues:yTicks,formatter:v=>tickText[String(v)]||String(v)}},
  series:seriesNames.map((n,i)=>({name:n,type:"scatter",data:seriesData[i],symbolSize:8,large:false,
    itemStyle:{color:seriesColors[i],opacity:1},emphasis:{disabled:true}}))
});
</script></body></html>
